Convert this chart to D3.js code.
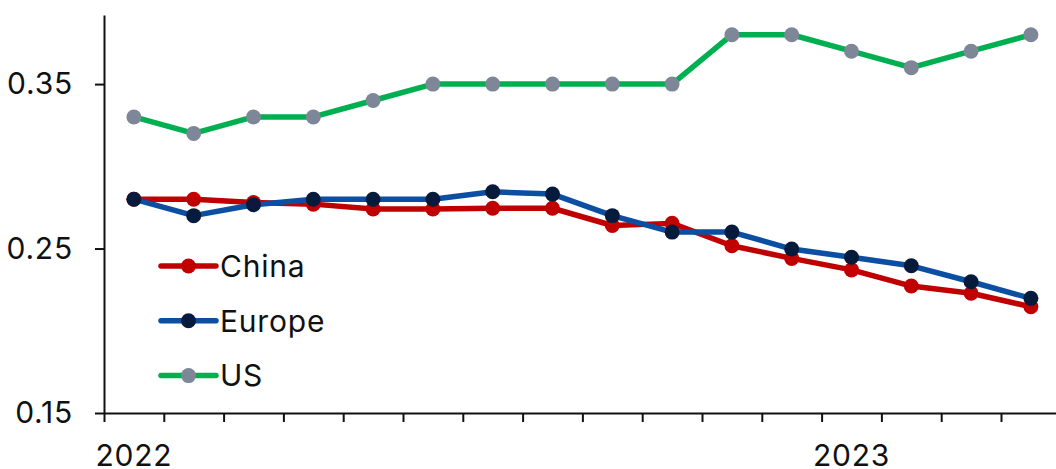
<!DOCTYPE html>
<html>
<head>
<meta charset="utf-8">
<script src="https://cdn.jsdelivr.net/npm/d3@7"></script>
<style>
  html, body { margin: 0; padding: 0; background: #fff; }
  svg { display: block; }
  text { font-family: Inter, "Liberation Sans", Arial, sans-serif; fill: #111; letter-spacing: 0.8px; }
</style>
</head>
<body>
<svg id="chart" width="1056" height="469"></svg>
<script>
// Monthly observations, Jan 2022 – Apr 2023
const months = ["2022-01","2022-02","2022-03","2022-04","2022-05","2022-06","2022-07","2022-08",
                "2022-09","2022-10","2022-11","2022-12","2023-01","2023-02","2023-03","2023-04"];
const china  = [0.280,0.280,0.278,0.277,0.274,0.274,0.2745,0.2745,0.264,0.2653,0.2517,0.244,0.237,0.2272,0.2228,0.2146];
const europe = [0.280,0.270,0.2766,0.280,0.280,0.280,0.2845,0.2831,0.270,0.260,0.260,0.2497,0.2447,0.2395,0.2298,0.2197];
const us     = [0.330,0.320,0.330,0.330,0.340,0.350,0.350,0.350,0.350,0.350,0.380,0.380,0.370,0.360,0.370,0.380];
const yTicks = [0.15, 0.25, 0.35];
const yearLabels = ["2022-01", "2023-01"];

const series = [
  { name: "China",  values: china,  line: "#c00000", dot: "#c00000" },
  { name: "Europe", values: europe, line: "#0b4ea2", dot: "#061a3c" },
  { name: "US",     values: us,     line: "#00b050", dot: "#7d8798" }
];

const svg = d3.select("#chart");
const plotLeft = 104, plotBottom = 413, plotTop = 15;
const step = 59.8;
const fontSize = "30px";

// band per month; points sit at band centres, ticks at band edges
const x = d3.scaleBand().domain(months).range([plotLeft, plotLeft + step * months.length]).padding(0);
const xEdge = d3.scaleLinear().domain([0, months.length]).range([plotLeft, plotLeft + step * months.length]);
const y = d3.scaleLinear().domain([0.15, 0.392]).range([plotBottom, plotTop]);
const cx = d => x(d) + x.bandwidth() / 2;

// y axis
const yAxis = svg.append("g")
  .attr("transform", `translate(${plotLeft},0)`)
  .call(d3.axisLeft(y).tickValues(yTicks).tickFormat(d3.format(".2f")).tickSize(9).tickPadding(22).tickSizeOuter(0));
yAxis.select(".domain").attr("stroke", "#111").attr("stroke-width", 2);
yAxis.selectAll(".tick line").attr("stroke", "#111").attr("stroke-width", 2);
yAxis.selectAll("text").style("font-size", fontSize).attr("fill", "#111");

// x axis: month ticks at band edges
const xAxis = svg.append("g")
  .attr("transform", `translate(0,${plotBottom})`)
  .call(d3.axisBottom(xEdge).tickValues(d3.range(0, months.length + 1)).tickFormat("").tickSize(9).tickSizeOuter(0));
xAxis.select(".domain").attr("stroke", "#111").attr("stroke-width", 2);
xAxis.selectAll(".tick line").attr("stroke", "#111").attr("stroke-width", 2);

// year labels under January (band axis already centres its ticks)
const xYears = svg.append("g")
  .attr("transform", `translate(0,${plotBottom})`)
  .call(d3.axisBottom(x).tickValues(yearLabels).tickFormat(d => d.slice(0, 4)).tickSize(0).tickPadding(32));
xYears.select(".domain").remove();
xYears.selectAll("text").style("font-size", fontSize).attr("fill", "#111");

// lines and markers
const line = d3.line().x((d, i) => cx(months[i])).y(d => y(d));
series.forEach(s => {
  const g = svg.append("g");
  g.append("path")
    .datum(s.values)
    .attr("d", line)
    .attr("fill", "none")
    .attr("stroke", s.line)
    .attr("stroke-width", 5.5)
    .attr("stroke-linejoin", "round");
  g.selectAll("circle")
    .data(s.values)
    .join("circle")
    .attr("cx", (d, i) => cx(months[i]))
    .attr("cy", d => y(d))
    .attr("r", 7.5)
    .attr("fill", s.dot);
});

// legend
const legend = svg.append("g").attr("transform", "translate(161,266)");
series.forEach((s, i) => {
  const g = legend.append("g").attr("transform", `translate(0,${i * 54.8})`);
  g.append("line").attr("x1", 0).attr("x2", 55).attr("y1", 0).attr("y2", 0)
    .attr("stroke", s.line).attr("stroke-width", 5.5).attr("stroke-linecap", "round");
  g.append("circle").attr("cx", 27.5).attr("cy", 0).attr("r", 7.5).attr("fill", s.dot);
  g.append("text").attr("x", 59).attr("dy", "0.36em").style("font-size", fontSize).text(s.name);
});
</script>
</body>
</html>
